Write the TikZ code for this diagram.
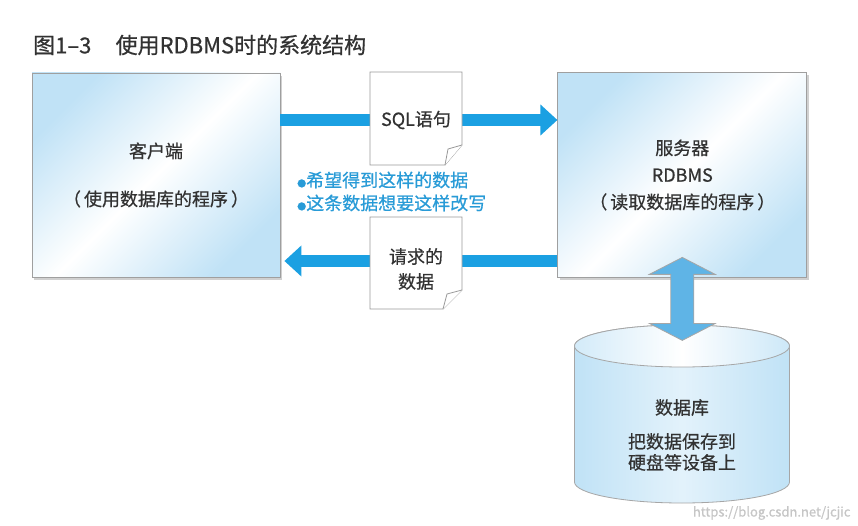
\documentclass[tikz,border=0pt]{standalone}
\usepackage{fontspec}
\setmainfont{Noto Sans CJK SC}[FakeBold=0.6]
\usetikzlibrary{positioning,shadows,arrows.meta}

\definecolor{flowblue}{RGB}{27,160,226}
\definecolor{panelblue}{RGB}{192,226,246}
\definecolor{txtgray}{RGB}{50,50,50}
\definecolor{notecyan}{RGB}{40,155,215}
\definecolor{linkblue}{RGB}{95,180,230}

\tikzset{
  panel/.style={draw=gray!75, line width=0.8pt, left color=panelblue, right color=panelblue,
    middle color=white, shading angle=45,
    drop shadow={shadow xshift=2pt, shadow yshift=-3pt, fill=gray!60, opacity=0.6},
    minimum width=248pt, minimum height=204pt, align=center, text=txtgray,
    font=\fontsize{18}{27}\selectfont},
  flow/.style={draw=flowblue, line width=12pt, -{Triangle[length=17pt, width=30pt]}},
  paper/.style={draw=gray!80, fill=white, line width=0.8pt},
  doctext/.style={text=txtgray, align=center, font=\fontsize{18}{25}\selectfont},
  note/.style={anchor=west, inner sep=0pt, text=notecyan, font=\fontsize{18}{18}\selectfont},
  drum/.style={draw=gray!70, line width=0.8pt, left color=panelblue, right color=panelblue,
    middle color=white!55!panelblue},
  drumtop/.style={draw=gray!70, line width=0.8pt, left color=panelblue!70, right color=panelblue!80,
    middle color=white},
  dbarrow/.style={draw=gray!70, line width=0.8pt, fill=linkblue},
}

\begin{document}
\begin{tikzpicture}[x=1pt, y=1pt]
  \useasboundingbox[fill=white] (0,0) rectangle (858,525);

  % title
  \node[anchor=west, inner sep=0pt, text=txtgray, font=\fontsize{22}{22}\selectfont] (title)
    at (33,480) {图1–3\hspace{1.1em}使用RDBMS时的系统结构};

  % client and server
  \node[panel] (client) at (156,350) {客户端\\[21pt]（\,使用数据库的程序\,）};
  \node[panel, minimum width=249pt, minimum height=205pt, right=277pt of client] (server)
    {服务器\\RDBMS\\（\,读取数据库的程序\,）};

  % request / reply
  \draw[flow] ([yshift=55pt]client.east) -- ([yshift=55pt]server.west);
  \draw[flow, shorten >=4pt] ([yshift=-86pt]server.west) -- ([yshift=-86pt]client.east);

  % SQL sheet
  \path[paper] (370,453) -- (462,453) -- (462,380) -- (445,360) -- (370,360) -- cycle;
  \path[paper] (462,380) -- (448,376) -- (445,360);
  \node[doctext] (sqldoc) at (416,405) {SQL语句};

  % result sheet
  \path[paper] (370,308) -- (462,308) -- (462,235) -- (443,216) -- (370,216) -- cycle;
  \path[paper] (462,235) -- (447,231) -- (443,216);
  \node[doctext] (resdoc) at (416,256) {请求的\\数据};

  \node[note] (wish) at (297,345) {{\fontsize{9}{9}\selectfont ●}希望得到这样的数据};
  \node[note] (rewrite) at (297,322) {{\fontsize{9}{9}\selectfont ●}这条数据想要这样改写};

  % database
  \draw[drum] (574.5,179) -- (574.5,43) arc[start angle=180, end angle=360, x radius=107.5pt, y radius=21pt]
    -- (789.5,179) arc[start angle=0, end angle=180, x radius=107.5pt, y radius=21pt] -- cycle;
  \draw[drumtop] (682,179) ellipse[x radius=107.5pt, y radius=21pt];
  \node[doctext, font=\fontsize{18}{21}\selectfont] (db) at (682,90)
    {数据库\\[13pt]把数据保存到\\硬盘等设备上};

  \draw[dbarrow] ([yshift=20.5pt]server.south) -- ++(33,-17) -- ++(-21.5,0) -- ++(0,-49)
    -- ++(21.5,0) -- ++(-33,-17) -- ++(-33,17) -- ++(21.5,0) -- ++(0,49) -- ++(-21.5,0) -- cycle;

  \node[anchor=east, text=gray!45, font=\fontsize{13}{13}\selectfont] (mark) at (854,12)
    {https://blog.csdn.net/jcjic};
\end{tikzpicture}
\end{document}
